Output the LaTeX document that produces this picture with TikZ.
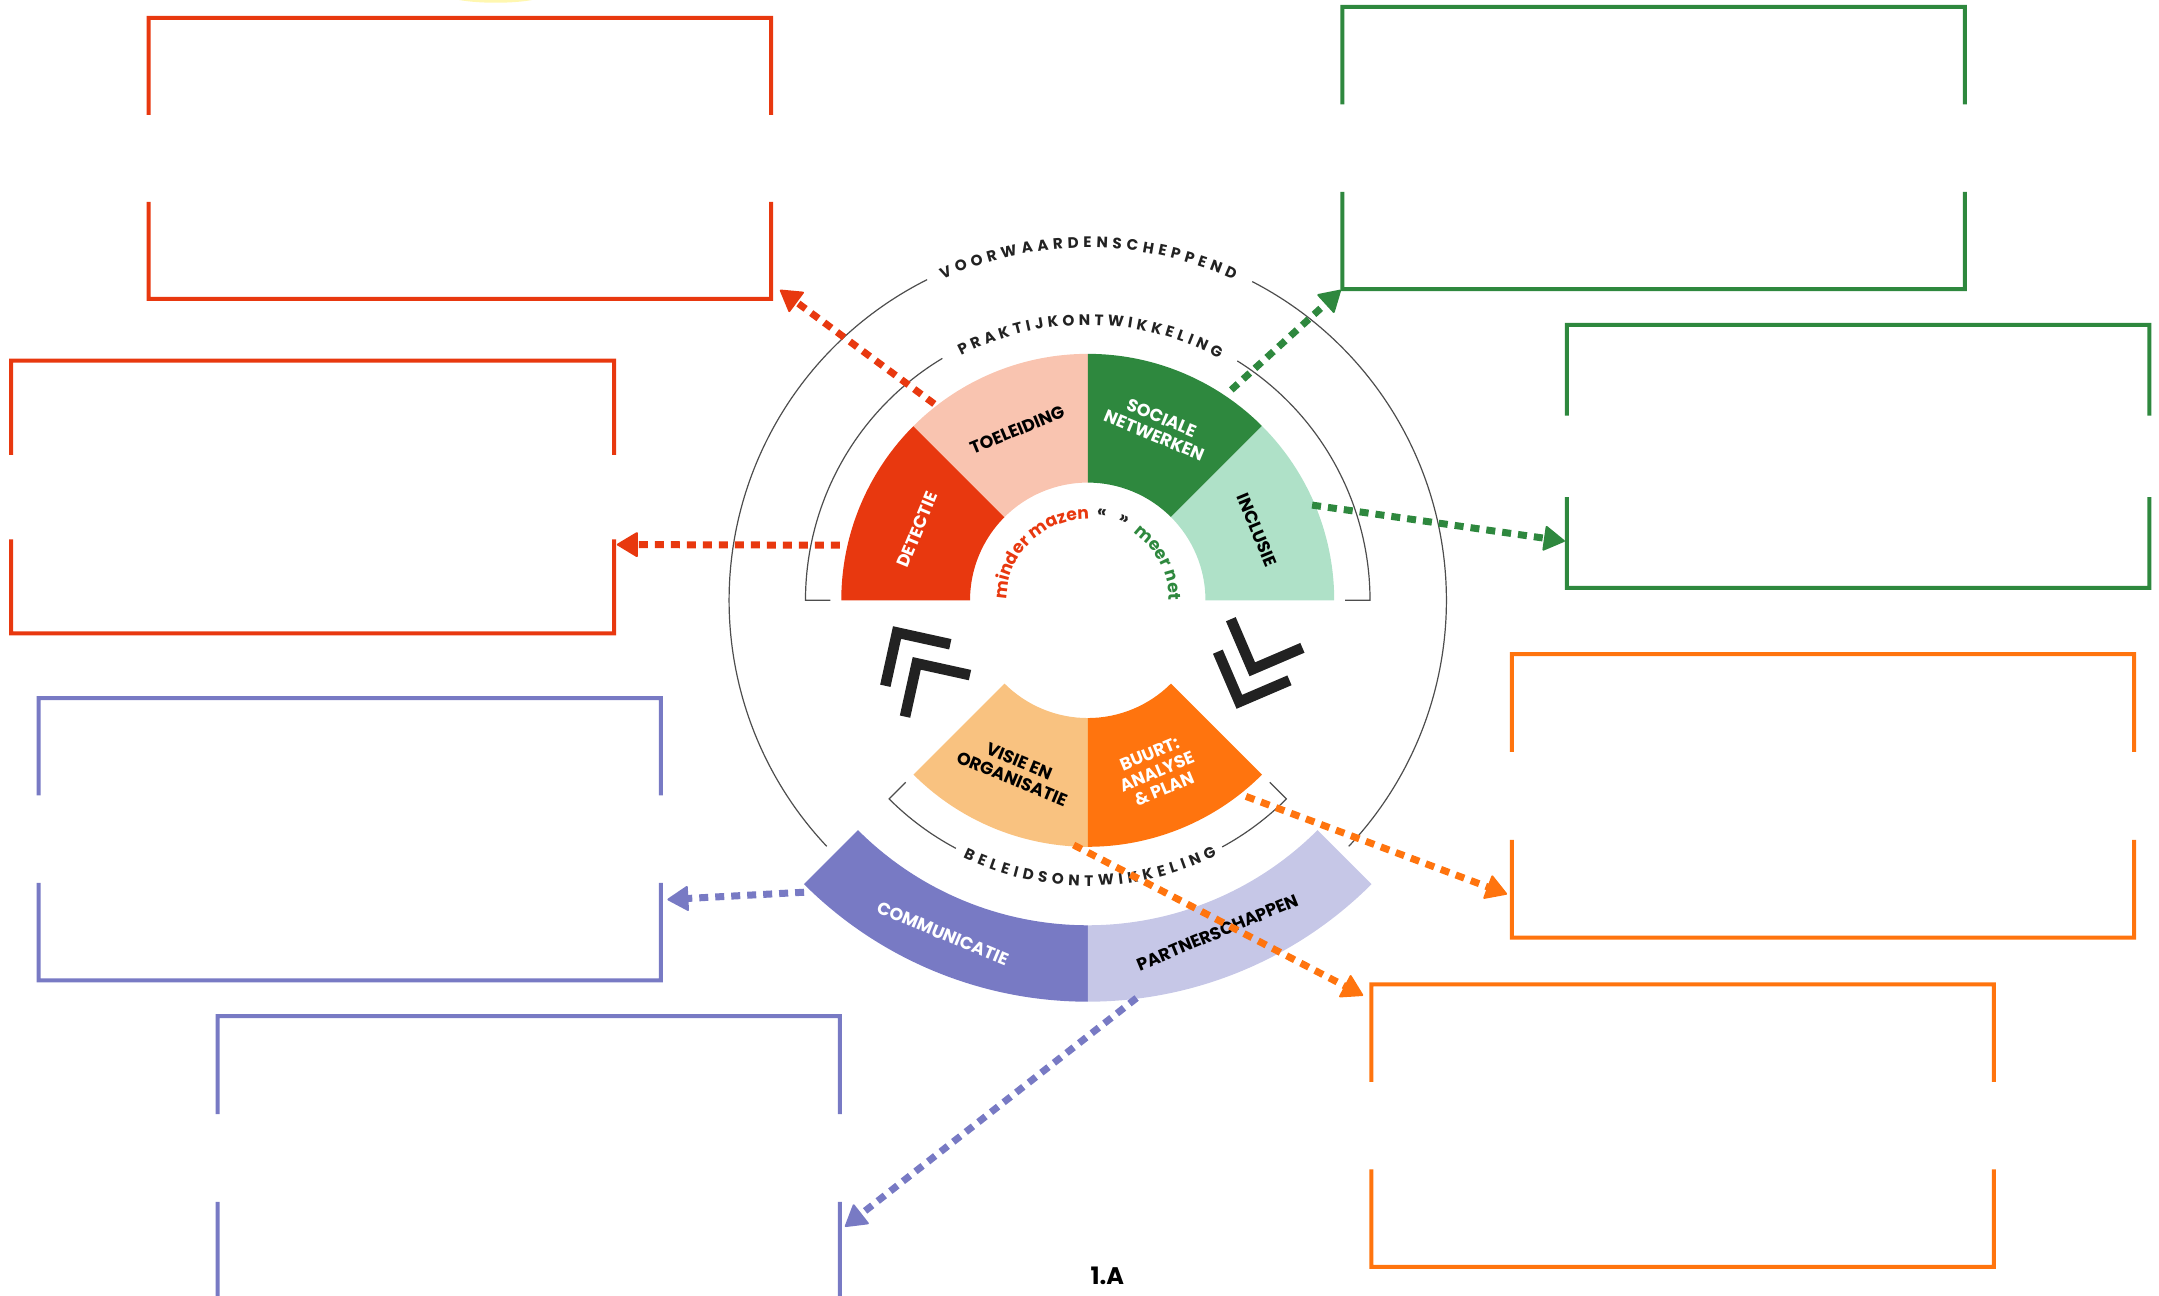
\documentclass[tikz,border=0pt]{standalone}
\usepackage{fontspec}
\setmainfont{Poppins}
\usetikzlibrary{arrows.meta,calc,fit,decorations.text}

\definecolor{detred}{HTML}{E8380F}
\definecolor{salmon}{HTML}{F9C4B0}
\definecolor{netgreen}{HTML}{2E883E}
\definecolor{mint}{HTML}{AFE1C8}
\definecolor{apricot}{HTML}{F9C280}
\definecolor{buurtorange}{HTML}{FF740E}
\definecolor{commblue}{HTML}{787AC4}
\definecolor{lavender}{HTML}{C6C7E7}
\definecolor{ringgrey}{HTML}{4D4D4D}
\definecolor{darktext}{HTML}{222222}
\definecolor{highlight}{HTML}{FFF7B0}

\newcommand\arcfont{\fontsize{7.6}{8}\selectfont\bfseries}
\newcommand\midfont{\fontsize{8.6}{9}\selectfont\bfseries}

\begin{document}
\begin{tikzpicture}[x=0.6885pt,y=0.6885pt,
    seglabel/.style={font=\fontsize{8.7}{9.5}\selectfont\bfseries, align=center, inner sep=0pt},
    ring/.style={ringgrey, line width=0.6pt},
    boxline/.style={line width=2pt},
    link/.style={line width=3.5pt, dash pattern=on 4.5pt off 3.5pt,
        -{Triangle[length=11pt,width=13pt,line width=1pt,round]}},
    chev/.style={darktext, line width=5.3pt},
    quote/.style={font=\midfont, text=darktext, inner sep=0pt}]
    \useasboundingbox (-790,-505) rectangle (778,436);

    % Highlight remnant at the top
    \fill[highlight] (-430,441) ellipse[x radius=38, y radius=7];

    % Outer ring and brackets
    \draw[ring] (116.6:260.5) arc[start angle=116.6, end angle=223.3, radius=260.5];
    \draw[ring] (62.7:260.5) arc[start angle=62.7, end angle=-43.3, radius=260.5];
    \draw[ring] (180:187) -- (180:205) arc[start angle=180, end angle=121, radius=205];
    \draw[ring] (58:205) arc[start angle=58, end angle=0, radius=205] -- (0:187);
    \draw[ring] (225:187) -- (225:204) arc[start angle=225, end angle=242, radius=204];
    \draw[ring] (298.6:204) arc[start angle=298.6, end angle=315, radius=204] -- (315:187);

    % Wheel segments
    \foreach \a/\b/\rin/\rout/\col in {135/180/85.5/179/detred, 90/135/85.5/179/salmon,
        45/90/85.5/179/netgreen, 0/45/85.5/179/mint, 225/270/85.5/179/apricot,
        270/315/85.5/179/buurtorange, 225/270/236/291.5/commblue, 270/315/236/291.5/lavender}
      \fill[\col] (\a:\rin) -- (\a:\rout) arc[start angle=\a, end angle=\b, radius=\rout]
        -- (\b:\rin) arc[start angle=\b, end angle=\a, radius=\rin] -- cycle;

    % Segment labels
    \node[seglabel, white, rotate=67.5] (detectie) at (157.5:134) {DETECTIE};
    \node[seglabel, rotate=22.5] (toeleiding) at (112.5:134) {TOELEIDING};
    \node[seglabel, white, rotate=-22.5] (sociale) at (68:136) {SOCIALE\\NETWERKEN};
    \node[seglabel, rotate=-67.5] (inclusie) at (22.5:133) {INCLUSIE};
    \node[seglabel, rotate=-22.5] (visie) at (247:134) {VISIE EN\\ORGANISATIE};
    \node[seglabel, white, rotate=22.5] (buurt) at (292:134) {BUURT:\\ANALYSE\\\& PLAN};
    \node[seglabel, white, rotate=-22.5] (communicatie) at (246.5:264) {COMMUNICATIE};
    \node[seglabel, rotate=22.5] (partner) at (291.3:259) {PARTNERSCHAPPEN};

    % Lettering along the arcs
    \path[decorate, decoration={text along path, text align=fit to path, text color=darktext,
        text={|\arcfont|VOORWAARDENSCHEPPEND}}]
        (114.3:256) arc[start angle=114.3, end angle=65.5, radius=256];
    \path[decorate, decoration={text along path, text align=fit to path, text color=darktext,
        text={|\arcfont|PRAKTIJKONTWIKKELING}}]
        (117.4:200) arc[start angle=117.4, end angle=61.5, radius=200];
    \path[decorate, decoration={text along path, text align=fit to path, text color=darktext,
        text={|\arcfont|BELEIDSONTWIKKELING}}]
        (244.1:207.5) arc[start angle=244.1, end angle=296.9, radius=207.5];

    % Centre motto
    \path[decorate, decoration={text along path, text align=fit to path, text color=detred,
        text={|\midfont|minder mazen}}]
        (179.7:59) arc[start angle=179.7, end angle=92.3, radius=59];
    \path[decorate, decoration={text along path, text align=fit to path, text color=netgreen,
        text={|\midfont|meer net}}]
        (56:59) arc[start angle=56, end angle=0.5, radius=59];
    \node[quote, rotate=-9.2] (lquote) at (80.8:64) {«};
    \node[quote, rotate=-24] (rquote) at (66:64) {»};

    % Chevrons showing the cycle
    \foreach \x/\y/\d in {-138.5/-23.4/122.6, -124.2/-45.8/122.6, 110.1/-73.7/248.2, 119.5/-50.1/248.2}
      \draw[chev, shift={(\x,\y)}, rotate=\d] (-28,28) -- (0,0) -- (-28,-28);

    % Open answer boxes
    \node[inner sep=0pt, outer sep=0pt, fit={(-682,423) (-230,219)}] (r1) {};
    \node[inner sep=0pt, outer sep=0pt, fit={(-782,174) (-344,-24)}] (r2) {};
    \node[inner sep=0pt, outer sep=0pt, fit={(-762,-71) (-310,-276)}] (b1) {};
    \node[inner sep=0pt, outer sep=0pt, fit={(-632,-302) (-180,-508)}] (b2) {};
    \node[inner sep=0pt, outer sep=0pt, fit={(185,431) (637,226)}] (g1) {};
    \node[inner sep=0pt, outer sep=0pt, fit={(348,200) (771,9)}] (g2) {};
    \node[inner sep=0pt, outer sep=0pt, fit={(308,-39) (760,-245)}] (o1) {};
    \node[inner sep=0pt, outer sep=0pt, fit={(206,-279) (658,-484)}] (o2) {};
    \foreach \b/\col in {r1/detred, r2/detred, b1/commblue, b2/commblue,
        g1/netgreen, g2/netgreen, o1/buurtorange, o2/buurtorange} {
      \draw[boxline, \col] ($(\b.north west)!0.345!(\b.south west)$) -- (\b.north west)
        -- (\b.north east) -- ($(\b.north east)!0.345!(\b.south east)$);
      \draw[boxline, \col] ($(\b.north west)!0.655!(\b.south west)$) -- (\b.south west)
        -- (\b.south east) -- ($(\b.north east)!0.655!(\b.south east)$);
    }

    % Links from the wheel to the boxes
    \coordinate (toelOut) at (128:181);
    \coordinate (detOut) at (-180,40);
    \coordinate (socOut) at (55.7:185);
    \coordinate (inclOut) at (23:177);
    \coordinate (buurtOut) at (-51.1:183);
    \coordinate (visieOut) at (266.7:178);
    \coordinate (commOut) at (-206,-212);
    \coordinate (partOut) at (277:291);
    \draw[link, detred] (toelOut) -- ($(r1.south east)+(6.5,6.4)$);
    \draw[link, detred] (detOut) -- ($(r2.east)+(2,-34.5)$);
    \draw[link, netgreen] (socOut) -- ($(g1.south west)+(-1.2,-0.6)$);
    \draw[link, netgreen] (inclOut) -- ($(g2.west)+(-1.5,-61.5)$);
    \draw[link, buurtorange] (buurtOut) -- ($(o1.west)+(-3.5,-71.4)$);
    \draw[link, buurtorange] (visieOut) -- ($(o2.north west)+(-6,-8)$);
    \draw[link, commblue] (commOut) -- ($(b1.east)+(4.7,-43.8)$);
    \draw[link, commblue] (partOut) -- ($(b2.east)+(3.7,-49.9)$);

    % Figure number
    \node[font=\fontsize{12}{14}\selectfont\bfseries] (figlabel) at (14.3,-490.7) {1.A};
\end{tikzpicture}
\end{document}
